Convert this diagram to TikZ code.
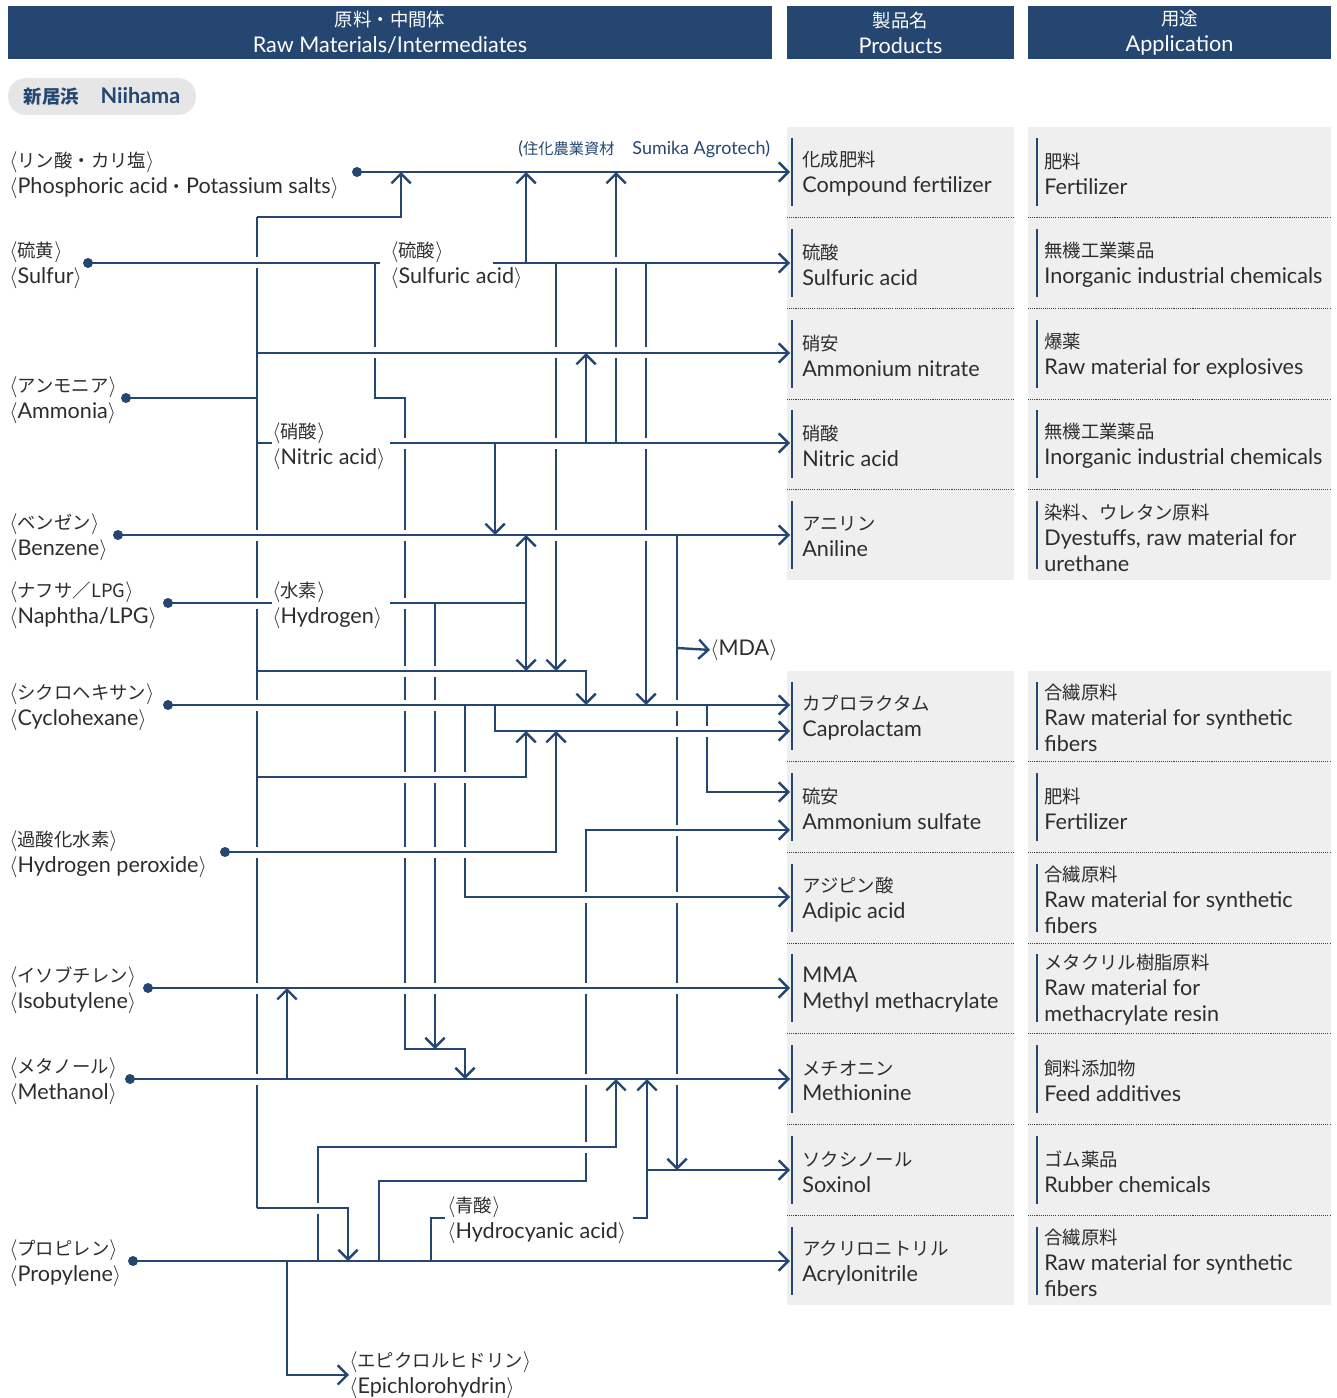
\documentclass[tikz,border=0pt]{standalone}
\usepackage{fontspec}
\setmainfont{Lato}
\newfontfamily\jp[Scale=0.85]{Noto Sans CJK JP}
\usetikzlibrary{arrows.meta}
\definecolor{navy}{RGB}{36,70,112}
\definecolor{ink}{RGB}{45,45,45}
\definecolor{panel}{RGB}{239,239,239}
\definecolor{pill}{RGB}{230,230,230}
\newcommand\ang[1]{$\langle$#1$\rangle$}
\newcommand\jang[1]{$\langle${\jp #1}$\rangle$}
\tikzset{
  flow/.style={draw=navy, line width=1.35pt},
  arr/.style={flow, -{Straight Barb[length=5.5pt,width=11pt]}},
  dot/.style={circle, fill=navy, inner sep=0pt, minimum size=0.2cm},
  lbl/.style={anchor=west, inner sep=0pt, yshift=-1.1pt, align=left, text=ink, font=\fontsize{12.3}{14.7}\selectfont},
  head/.style={fill=navy, text=white, align=center, inner sep=0pt, minimum height=1.06cm, font=\fontsize{12.3}{14.7}\selectfont},
  bar/.style={draw=navy, line width=1.6pt},
  sep/.style={draw=black!75, line width=0.5pt, dash pattern=on 0.6pt off 0.6pt}
}
\begin{document}
\begin{tikzpicture}[x=0.02cm, y=-0.02cm]
  \useasboundingbox (0,0) rectangle (1336,1398);

  % Headers
  \node[head, minimum width=15.28cm] (hraw) at (390,32.5) {{\jp 原料・中間体}\\Raw Materials/Intermediates};
  \node[head, minimum width=4.54cm] (hprod) at (900.5,32.5) {{\jp 製品名}\\Products};
  \node[head, minimum width=6.06cm] (huse) at (1179.5,32.5) {{\jp 用途}\\Application};
  \node[fill=pill, rounded corners=0.36cm, minimum width=3.76cm, minimum height=0.74cm, inner sep=0pt,
        text=navy, font=\fontsize{12.3}{14}\selectfont\bfseries] (site) at (102,96.5) {{\jp 新居浜}\quad Niihama};

  % Product and application panels
  \fill[panel] (787,127) rectangle (1014,580);
  \fill[panel] (1028,127) rectangle (1331,580);
  \fill[panel] (787,671) rectangle (1014,1305);
  \fill[panel] (1028,671) rectangle (1331,1305);
  \foreach \y in {217,308,399,489,761,852,943,1033,1124,1215} {
    \draw[sep] (787,\y) -- (1014,\y);
    \draw[sep] (1028,\y) -- (1331,\y);
  }
  \foreach \y in {172,263,354,444,535,716,807,898,988,1079,1170,1261} {
    \draw[bar] (792,\y-34) -- (792,\y+34);
    \draw[bar] (1037,\y-34) -- (1037,\y+34);
  }

  % Products
  \node[lbl] (cf) at (802,172) {{\jp 化成肥料}\\Compound fertilizer};
  \node[lbl] (sa) at (802,263) {{\jp 硫酸}\\Sulfuric acid};
  \node[lbl] (an) at (802,354) {{\jp 硝安}\\Ammonium nitrate};
  \node[lbl] (na) at (802,444) {{\jp 硝酸}\\Nitric acid};
  \node[lbl] (ani) at (802,535) {{\jp アニリン}\\Aniline};
  \node[lbl] (cap) at (802,716) {{\jp カプロラクタム}\\Caprolactam};
  \node[lbl] (as) at (802,807) {{\jp 硫安}\\Ammonium sulfate};
  \node[lbl] (ad) at (802,898) {{\jp アジピン酸}\\Adipic acid};
  \node[lbl] (mma) at (802,988) {MMA\\Methyl methacrylate};
  \node[lbl] (met) at (802,1079) {{\jp メチオニン}\\Methionine};
  \node[lbl] (sox) at (802,1170) {{\jp ソクシノール}\\Soxinol};
  \node[lbl] (acn) at (802,1261) {{\jp アクリロニトリル}\\Acrylonitrile};

  % Applications
  \node[lbl] (cfuse) at (1044,172) {{\jp 肥料}\\Fertilizer};
  \node[lbl] (sause) at (1044,263) {{\jp 無機工業薬品}\\Inorganic industrial chemicals};
  \node[lbl] (anuse) at (1044,354) {{\jp 爆薬}\\Raw material for explosives};
  \node[lbl] (nause) at (1044,444) {{\jp 無機工業薬品}\\Inorganic industrial chemicals};
  \node[lbl] (aniuse) at (1044,536) {{\jp 染料、ウレタン原料}\\Dyestuffs, raw material for\\urethane};
  \node[lbl] (capuse) at (1044,716) {{\jp 合繊原料}\\Raw material for synthetic\\fibers};
  \node[lbl] (asuse) at (1044,807) {{\jp 肥料}\\Fertilizer};
  \node[lbl] (aduse) at (1044,898) {{\jp 合繊原料}\\Raw material for synthetic\\fibers};
  \node[lbl] (mmause) at (1044,988) {{\jp メタクリル樹脂原料}\\Raw material for\\methacrylate resin};
  \node[lbl] (metuse) at (1044,1079) {{\jp 飼料添加物}\\Feed additives};
  \node[lbl] (soxuse) at (1044,1170) {{\jp ゴム薬品}\\Rubber chemicals};
  \node[lbl] (acnuse) at (1044,1261) {{\jp 合繊原料}\\Raw material for synthetic\\fibers};

  % Inlets of the products
  \coordinate (cfin) at (790,172);
  \coordinate (sain) at (790,263);
  \coordinate (anin) at (790,353);
  \coordinate (nain) at (790,443);
  \coordinate (aniin) at (790,535);
  \coordinate (capin) at (790,705);
  \coordinate (capinb) at (790,731);
  \coordinate (asin) at (790,792);
  \coordinate (asinb) at (790,830);
  \coordinate (adin) at (790,897);
  \coordinate (mmain) at (790,988);
  \coordinate (metin) at (790,1079);
  \coordinate (soxin) at (790,1170);
  \coordinate (acnin) at (790,1261);

  % Raw materials
  \coordinate (phos) at (357,172);
  \coordinate (sulf) at (88,263);
  \coordinate (ammo) at (126,398);
  \coordinate (benz) at (118,535);
  \coordinate (naph) at (168,603);
  \coordinate (cyhx) at (168,705);
  \coordinate (hper) at (225,852);
  \coordinate (isob) at (148,988);
  \coordinate (meoh) at (130,1079);
  \coordinate (prop) at (133,1261);
  \node[lbl] (phoslbl) at (9,173) {\jang{リン酸・カリ塩}\\\ang{Phosphoric acid{\jp ・}Potassium salts}};
  \node[lbl] (sulflbl) at (9,263) {\jang{硫黄}\\\ang{Sulfur}};
  \node[lbl] (ammolbl) at (9,398) {\jang{アンモニア}\\\ang{Ammonia}};
  \node[lbl] (benzlbl) at (9,535) {\jang{ベンゼン}\\\ang{Benzene}};
  \node[lbl] (naphlbl) at (9,603) {\jang{ナフサ／LPG}\\\ang{Naphtha/LPG}};
  \node[lbl] (cyhxlbl) at (9,705) {\jang{シクロヘキサン}\\\ang{Cyclohexane}};
  \node[lbl] (hperlbl) at (9,852) {\jang{過酸化水素}\\\ang{Hydrogen peroxide}};
  \node[lbl] (isoblbl) at (9,988) {\jang{イソブチレン}\\\ang{Isobutylene}};
  \node[lbl] (meohlbl) at (9,1079) {\jang{メタノール}\\\ang{Methanol}};
  \node[lbl] (proplbl) at (9,1261) {\jang{プロピレン}\\\ang{Propylene}};

  % Intermediates
  \node[lbl] (h2so4) at (390,263) {\jang{硫酸}\\\ang{Sulfuric acid}};
  \node[lbl] (hno3) at (272,444) {\jang{硝酸}\\\ang{Nitric acid}};
  \node[lbl] (h2) at (272,603) {\jang{水素}\\\ang{Hydrogen}};
  \node[lbl] (hcn) at (447,1218) {\jang{青酸}\\\ang{Hydrocyanic acid}};
  \node[lbl] (epi) at (349,1373) {\jang{エピクロルヒドリン}\\\ang{Epichlorohydrin}};
  \node[lbl] (mda) at (710,648) {\ang{MDA}};
  \node[anchor=west, inner sep=0pt, text=navy, font=\fontsize{10.2}{12}\selectfont] (agro) at (518,149)
       {({\jp 住化農業資材}\quad Sumika Agrotech)};

  % Flows
  \draw[arr] (phos) -- (cfin);
  \draw[flow] (sulf) -- (380,263);
  \draw[arr] (493,263) -- (sain);
  \draw[flow] (ammo) -- (257,398);
  \draw[flow] (257,217) -- (257,1208);
  \draw[arr] (257,217) -| (401,172);
  \draw[arr] (257,353) -- (anin);
  \draw[flow] (257,443) -- (272,443);
  \draw[arr] (390,443) -- (nain);
  \draw[arr] (benz) -- (aniin);
  \draw[flow] (naph) -- (272,603);
  \draw[flow] (390,603) -- (526,603);
  \draw[arr] (526,603) -- (526,535);
  \draw[arr] (526,603) -- (526,671);
  \draw[arr] (257,671) -| (586,705);
  \draw[arr] (cyhx) -- (capin);
  \draw[arr] (495,705) |- (capinb);
  \draw[arr] (257,777) -| (526,731);
  \draw[arr] (hper) -| (556,731);
  \draw[arr] (707,705) |- (asin);
  \draw[arr] (379,1261) |- (586,1181) |- (asinb);
  \draw[arr] (465,705) |- (adin);
  \draw[arr] (isob) -- (mmain);
  \draw[arr] (287,1079) -- (287,988);
  \draw[arr] (meoh) -- (metin);
  \draw[arr] (375,263) |- (405,398) |- (465,1049) -- (465,1079);
  \draw[arr] (435,603) -- (435,1049);
  \draw[arr] (526,263) -- (526,172);
  \draw[arr] (556,263) -- (556,671);
  \draw[arr] (586,443) -- (586,353);
  \draw[arr] (616,443) -- (616,172);
  \draw[arr] (646,263) -- (646,705);
  \draw[arr] (495,443) -- (495,535);
  \draw[arr] (677,535) -- (677,1170);
  \draw[arr] (677,648) -- (mda.west);
  \draw[arr] (257,1208) -| (348,1261);
  \draw[arr] (prop) -- (acnin);
  \draw[arr] (318,1261) |- (616,1147) -- (616,1079);
  \draw[flow] (431,1261) |- (445,1218);
  \draw[arr] (633,1218) -| (647,1079);
  \draw[arr] (647,1170) -- (soxin);
  \draw[arr] (287,1261) |- (epi.west);

  % Line crossings
  \foreach \x/\y in {257/263, 257/535, 257/603, 257/705, 257/852, 257/988, 257/1079, 375/353,
      405/443, 405/535, 405/603, 405/671, 405/705, 405/777, 405/852, 405/988,
      435/671, 435/705, 435/777, 435/852, 435/988, 465/777, 465/852,
      556/353, 556/443, 556/535, 586/897, 586/988, 586/1079, 586/1147,
      616/263, 616/353, 646/353, 646/443, 646/535,
      677/705, 677/731, 677/830, 677/897, 677/988, 677/1079, 707/731, 318/1208} {
    \fill[white] (\x-3,\y-5.5) rectangle (\x+3,\y+5.5);
    \draw[flow] (\x-4,\y) -- (\x+4,\y);
  }

  % Dots
  \foreach \p in {phos,sulf,ammo,benz,naph,cyhx,hper,isob,meoh,prop}
    \node[dot] at (\p) {};
\end{tikzpicture}
\end{document}
